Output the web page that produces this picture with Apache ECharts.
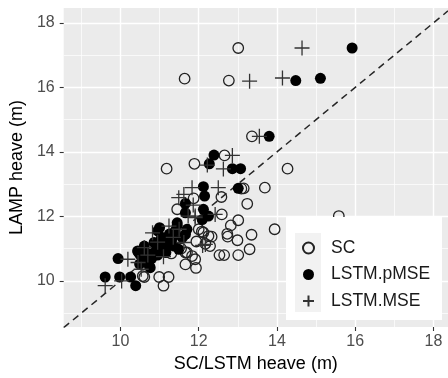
<!DOCTYPE html>
<html>
<head>
<meta charset="utf-8">
<script src="https://cdn.jsdelivr.net/npm/echarts@6/dist/echarts.min.js"></script>
<style>
  html, body { margin: 0; padding: 0; background: #fff; }
  #chart { width: 448px; height: 378px; }
</style>
</head>
<body>
<div id="chart"></div>
<script>
// Storm peak heave: SC / LSTM predictions (x) against LAMP (y), metres
const scX = [13.01, 11.64, 12.77, 13.36, 12.66, 11.89, 11.18, 14.27, 13.15, 13.69,
             12.58, 11.87, 13.24, 11.45, 12.59, 15.58, 13.01, 12.82, 13.94, 12.08,
             12.73, 12.74, 13.35, 12.33, 12.99, 11.94, 12.17, 12.29, 13.30, 11.66,
             11.83, 12.53, 12.65, 13.01, 11.66, 11.93, 11.91, 10.61, 10.99, 11.23,
             11.10, 13.09, 12.25, 11.70, 11.30, 11.55, 12.12, 12.00, 10.57];
const scY = [17.22, 16.27, 16.21, 14.48, 13.89, 13.63, 13.48, 13.48, 12.87, 12.89,
             12.60, 12.56, 12.39, 12.22, 12.06, 12.01, 11.88, 11.72, 11.60, 11.53,
             11.46, 11.37, 11.43, 11.37, 11.26, 11.22, 11.15, 11.08, 10.98, 10.88,
             10.77, 10.80, 10.80, 10.80, 10.51, 10.40, 10.67, 10.12, 10.12, 10.12,
              9.85, 12.86, 11.39, 10.88, 10.85, 11.00, 11.50, 11.60, 10.15];

const pmseX = [15.92, 14.48, 15.11, 13.80, 12.39, 12.27, 12.86, 13.07, 13.01, 12.12,
               12.15, 11.66, 12.12, 11.66, 12.09, 12.25, 11.45, 11.70, 10.95,  9.94,
                9.61,  9.98, 10.26, 10.39, 10.49, 10.53, 10.76, 10.74, 10.49, 10.61,
               10.86, 11.00, 11.20, 11.32, 11.37, 11.58, 11.66, 11.49, 10.70, 10.90,
               11.05, 11.25, 10.55, 10.80, 11.15, 10.45, 11.40, 10.95, 11.16, 11.45,
               10.44, 11.00, 11.30, 10.65];
const pmseY = [17.22, 16.21, 16.28, 14.48, 13.90, 13.63, 13.48, 13.48, 12.87, 12.92,
               12.63, 12.40, 12.22, 12.11, 11.90, 12.01, 11.72, 11.60, 11.55, 10.69,
               10.12, 10.12, 10.12,  9.85, 10.83, 10.77, 10.41, 10.46, 10.52, 11.08,
               11.19, 11.10, 11.19, 11.34, 11.08, 11.34, 11.44, 10.98, 10.85, 10.95,
               11.35, 11.45, 10.60, 10.70, 11.00, 10.90, 11.55, 10.80, 10.88, 11.80,
               10.93, 11.65, 11.25, 10.65];

const mseX = [14.64, 13.30, 14.14, 13.55, 12.86, 12.22, 12.63, 11.83, 12.50, 11.49,
              11.86, 11.73, 11.91, 12.42, 11.24, 10.82, 12.17, 11.62, 10.61, 11.10,
              10.19, 10.45, 10.53,  9.61, 10.03, 12.10, 11.35, 10.95, 10.70, 11.50,
              11.62, 11.91];
const mseY = [17.22, 16.19, 16.29, 14.48, 13.89, 13.59, 13.47, 12.89, 12.89, 12.58,
              12.35, 12.01, 12.01, 12.06, 11.70, 11.49, 11.13, 11.19, 11.03, 10.75,
              10.67, 10.57, 10.36,  9.85, 10.00, 11.10, 11.35, 11.20, 10.80, 11.60,
              12.68, 11.96];

// axis limits and tick values
const xLimits = [8.55, 18.37];
const yLimits = [8.57, 18.46];
const majorTicks = [10, 12, 14, 16, 18];
const minorTicks = [9, 11, 13, 15, 17];
const identity = [8.55, 18.37];

const seriesNames = ['SC', 'LSTM.pMSE', 'LSTM.MSE'];

const pairs = (xs, ys) => xs.map((x, i) => [x, ys[i]]);

const FONT = 'Liberation Sans, Arial, sans-serif';
const PLUS = 'path://M0,5L10,5M5,0L5,10';

const majorAxis = (lim, isX) => ({
  type: 'value',
  min: lim[0],
  max: lim[1],
  position: isX ? 'bottom' : 'left',
  axisLine: { show: false },
  axisTick: {
    show: true, length: 4, customValues: majorTicks,
    lineStyle: { color: '#333333', width: 1.1 }
  },
  axisLabel: {
    customValues: majorTicks, color: '#4d4d4d', fontSize: 16,
    fontFamily: FONT, margin: isX ? 7 : 9
  },
  splitLine: { show: true, lineStyle: { color: '#ffffff', width: 1.4 } },
  name: isX ? 'SC/LSTM heave (m)' : 'LAMP heave (m)',
  nameLocation: 'middle',
  nameGap: isX ? 28 : 35,
  nameTextStyle: { color: '#000000', fontSize: 18, fontFamily: FONT }
});

const minorAxis = (lim, isX) => ({
  type: 'value',
  min: lim[0],
  max: lim[1],
  position: isX ? 'top' : 'right',
  axisLine: { show: false },
  axisTick: { show: false, customValues: minorTicks },
  axisLabel: { show: false, customValues: minorTicks },
  splitLine: { show: true, lineStyle: { color: '#ffffff', width: 0.7 } }
});

const chart = echarts.init(document.getElementById('chart'), null, { renderer: 'canvas' });

chart.setOption({
  animation: false,
  backgroundColor: '#ffffff',
  grid: {
    left: 58, right: 0, top: 8, bottom: 50,
    show: true, backgroundColor: '#ebebeb', borderWidth: 0
  },
  xAxis: [majorAxis(xLimits, true), minorAxis(xLimits, true)],
  yAxis: [majorAxis(yLimits, false), minorAxis(yLimits, false)],
  graphic: [
    { type: 'rect', z: 50, shape: { x: 286, y: 217, width: 156, height: 103 },
      style: { fill: '#ffffff' }, silent: true },
    { type: 'rect', z: 51, shape: { x: 295, y: 233, width: 26, height: 79 },
      style: { fill: '#f2f2f2' }, silent: true }
  ],
  legend: {
    data: seriesNames,
    orient: 'vertical',
    left: 302,
    top: 239,
    z: 60,
    itemWidth: 11,
    itemHeight: 11,
    itemGap: 8.5,
    padding: 0,
    textStyle: {
      color: '#1a1a1a', fontSize: 17.5, fontFamily: FONT,
      lineHeight: 18, padding: [0, 0, 0, 12]
    }
  },
  series: [
    {
      type: 'line', silent: true, symbol: 'none', z: 1,
      data: [[identity[0], identity[0]], [identity[1], identity[1]]],
      lineStyle: { color: '#262626', width: 1.5, type: [7, 5] }
    },
    {
      name: seriesNames[0], type: 'scatter', z: 2,
      data: pairs(scX, scY),
      symbol: 'circle', symbolSize: 10.5,
      itemStyle: { color: 'rgba(0,0,0,0)', borderColor: '#222222', borderWidth: 1.3, opacity: 1 }
    },
    {
      name: seriesNames[1], type: 'scatter', z: 3,
      data: pairs(pmseX, pmseY),
      symbol: 'circle', symbolSize: 11,
      itemStyle: { color: '#000000', borderWidth: 0, opacity: 1 }
    },
    {
      name: seriesNames[2], type: 'scatter', z: 4,
      data: pairs(mseX, mseY),
      symbol: PLUS, symbolSize: 15,
      itemStyle: { color: 'rgba(0,0,0,0)', borderColor: '#333333', borderWidth: 1.3, opacity: 1 }
    }
  ]
});
</script>
</body>
</html>
